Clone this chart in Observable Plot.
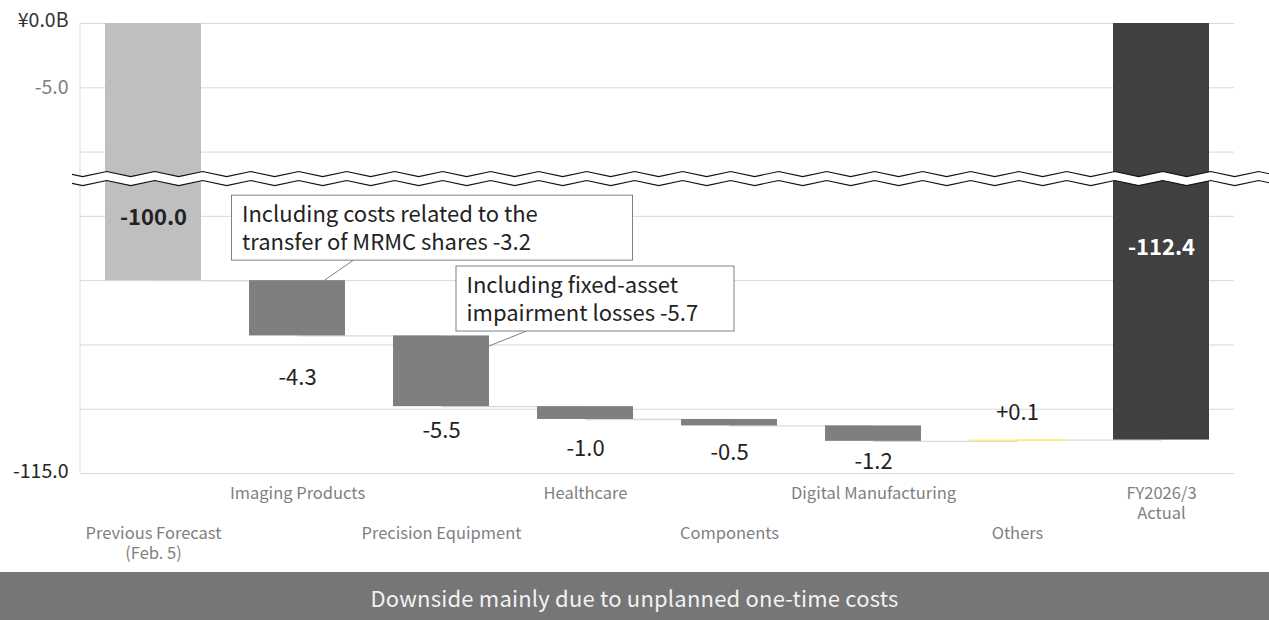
<!DOCTYPE html>
<html>
<head>
<meta charset="utf-8">
<script src="https://cdn.jsdelivr.net/npm/d3@7"></script>
<script src="https://cdn.jsdelivr.net/npm/@observablehq/plot@0.6"></script>
<style>
  html, body { margin: 0; padding: 0; background: #fff; }
  body { font-family: "Noto Sans CJK JP", "Noto Sans", sans-serif; width: 1269px; }
  #banner { height: 48px; background: #767676; color: #f2f2f2; font-size: 22px;
            text-align: center; line-height: 50px; letter-spacing: 0.2px; }
</style>
</head>
<body>
<div id="chart"></div>
<div id="banner">Downside mainly due to unplanned one-time costs</div>
<script>
// ---------------- data ----------------
const categories = [
  "Previous Forecast\n(Feb. 5)", "Imaging Products", "Precision Equipment", "Healthcare",
  "Components", "Digital Manufacturing", "Others", "FY2026/3\nActual"
];
const kinds = ["total", "delta", "delta", "delta", "delta", "delta", "delta", "total"];
const values = [-100.0, -4.3, -5.5, -1.0, -0.5, -1.2, 0.1, -112.4];
const valueLabels = ["-100.0", "-4.3", "-5.5", "-1.0", "-0.5", "-1.2", "+0.1", "-112.4"];
const yTickValues = [0, -5, -115];
const yTickLabels = ["¥0.0B", "-5.0", "-115.0"];
const gridValues = [0, -5, -10, -95, -100, -105, -110, -115];
const calloutCategories = ["Imaging Products", "Precision Equipment"];
const calloutTexts = [
  ["Including costs related to the", "transfer of MRMC shares -3.2"],
  ["Including fixed-asset", "impairment losses -5.7"]
];
const calloutLevels = [-100.0, -104.3];

// ---------------- broken axis mapping ----------------
const breakUpper = -10, breakLower = -95, gapUnits = 5;
const disp = v => (v >= breakUpper ? v : v - breakLower + breakUpper - gapUnits);

// ---------------- derived rows ----------------
let running = 0;
const rows = categories.map((c, i) => {
  let start, end;
  if (kinds[i] === "total") { start = 0; end = values[i]; }
  else { start = running; end = running + values[i]; }
  running = end;
  return {category: c, start, end, value: values[i], label: valueLabels[i], kind: kinds[i], i};
});
const colorOf = d => d.kind === "total" ? (d.i === 0 ? "#bfbfbf" : "#404040")
                                        : (d.value < 0 ? "#7f7f7f" : "#fff05a");
const connectors = rows.slice(0, -1).map((d, i) => ({from: d.category, to: rows[i + 1].category, level: d.end}));

// ---------------- layout / style ----------------
const labelOffsets = [-62.6, 42, 24.4, 29.5, 27, 21, -27.6, -192.6];
const tickOffsets = [-3, 0, -1.5];
const tickFills = ["#333333", "#808080", "#262626"];
const FONT = '"Noto Sans CJK JP", "Noto Sans", sans-serif';

function axisLine(index, scales, values, dim) {
  const g = d3.create("svg:g");
  g.append("line")
    .attr("x1", dim.marginLeft).attr("x2", dim.marginLeft)
    .attr("y1", dim.marginTop).attr("y2", dim.height - dim.marginBottom)
    .attr("stroke", "#d9d9d9");
  return g.node();
}

function zigzag(index, scales, values, dim) {
  const {y} = scales;
  const yc = y(-12.1);
  const period = 48, phase = 10.7, amp = 2.5, half = 4.5;
  const x0 = 72, x1 = dim.width;
  const top = [], bot = [];
  for (let x = phase - period; x <= x1 + period; x += period / 2) {
    const up = Math.round((x - phase) / (period / 2)) % 2 === 0;
    top.push([x, yc - half + (up ? -amp : amp)]);
    bot.push([x, yc + half + (up ? -amp : amp)]);
  }
  const g = d3.create("svg:g");
  const id = "zzclip";
  g.append("clipPath").attr("id", id).append("rect")
    .attr("x", x0).attr("y", yc - 20).attr("width", x1 - x0).attr("height", 40);
  const gg = g.append("g").attr("clip-path", `url(#${id})`);
  const line = d3.line();
  gg.append("path").attr("d", line(top.concat(bot.slice().reverse())) + "Z").attr("fill", "#fff");
  gg.append("path").attr("d", line(top)).attr("fill", "none").attr("stroke", "#111").attr("stroke-width", 1.1);
  gg.append("path").attr("d", line(bot)).attr("fill", "none").attr("stroke", "#111").attr("stroke-width", 1.1);
  return g.node();
}

function callouts(index, scales) {
  const {x, y} = scales;
  const bw = x.bandwidth();
  const g = d3.create("svg:g").attr("font-family", FONT).attr("font-size", 22)
    .attr("fill", "#222").attr("text-anchor", "start");
  const specs = [
    {dxBox: -65.5, w: 401, dyTop: -85, h: 65, lead: [[56.5, -20], [27.5, 0]]},
    {dxBox: 15, w: 278, dyTop: -69.4, h: 65, lead: [[85.5, -4.4], [bw / 2, 10.6]]}
  ];
  calloutCategories.forEach((cat, k) => {
    const s = specs[k];
    const cx = x(cat) + bw / 2;
    const yb = y(disp(calloutLevels[k]));
    const bx = cx + s.dxBox, by = yb + s.dyTop;
    g.append("line")
      .attr("x1", cx + s.lead[0][0]).attr("y1", yb + s.lead[0][1])
      .attr("x2", cx + s.lead[1][0]).attr("y2", yb + s.lead[1][1])
      .attr("stroke", "#808080").attr("stroke-width", 1);
    g.append("rect").attr("x", bx).attr("y", by).attr("width", s.w).attr("height", s.h)
      .attr("fill", "#fff").attr("stroke", "#808080").attr("stroke-width", 1);
    calloutTexts[k].forEach((t, j) => {
      g.append("text").attr("x", bx + 10.5).attr("y", by + 26.5 + j * 28)
        .attr("text-anchor", "start").text(t);
    });
  });
  return g.node();
}

const oddCats = categories.filter((c, i) => i % 2 === 1);
const evenCats = categories.filter((c, i) => i % 2 === 0);

const chart = Plot.plot({
  width: 1269,
  height: 572,
  marginLeft: 80,
  marginRight: 35,
  marginTop: 23,
  marginBottom: 99,
  style: {fontFamily: FONT, background: "#fff", overflow: "visible"},
  x: {domain: categories, paddingInner: 0.33, paddingOuter: 0.165, axis: null},
  y: {domain: [disp(-115), 0], axis: null},
  color: {type: "identity"},
  marks: [
    Plot.ruleY(gridValues.map(disp), {stroke: "#d9d9d9", strokeWidth: 1}),
    axisLine,
    Plot.link(connectors, {x1: "from", x2: "to", y1: d => disp(d.level), y2: d => disp(d.level), stroke: "#d9d9d9", strokeWidth: 1.3}),
    Plot.barY(rows, {x: "category", y1: d => disp(d.start), y2: d => disp(d.end), fill: colorOf}),
    zigzag,
    ...rows.map((d, i) => Plot.text([d], {
      x: "category", y: r => disp(r.end), text: "label", dy: labelOffsets[i],
      fontSize: 22, fontWeight: d.kind === "total" ? "bold" : "normal",
      fill: i === rows.length - 1 ? "#ffffff" : "#222222"
    })),
    callouts,
    ...yTickValues.map((v, i) => Plot.text([yTickLabels[i]], {
      frameAnchor: "left", y: () => disp(v), text: d => d, fill: tickFills[i],
      textAnchor: "end", dx: -12, dy: tickOffsets[i], fontSize: 19.5
    })),
    Plot.text(oddCats, {x: d => d, frameAnchor: "bottom", text: d => d, lineAnchor: "top", dy: 11, fontSize: 16.5, lineHeight: 1.22, fill: "#7f7f7f"}),
    Plot.text(evenCats, {x: d => d, frameAnchor: "bottom", text: d => d, lineAnchor: "top", dy: 51, fontSize: 16.5, lineHeight: 1.22, fill: "#7f7f7f"})
  ]
});
document.getElementById("chart").appendChild(chart);
</script>
</body>
</html>
